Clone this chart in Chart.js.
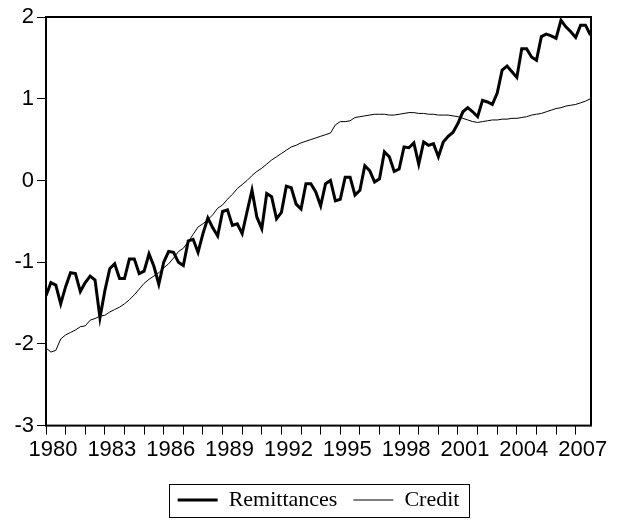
<!DOCTYPE html>
<html>
<head>
<meta charset="utf-8">
<script src="https://cdn.jsdelivr.net/npm/chart.js@4"></script>
<style>
  html, body { margin:0; padding:0; background:#fff; }
  #wrap { width:625px; height:521px; }
</style>
</head>
<body>
<div id="wrap"><canvas id="c"></canvas></div>
<script>
// quarterly series, first obs 1980Q1
const START_YEAR = 1980;
const YEAR_TICKS = [1980,1981,1982,1983,1984,1985,1986,1987,1988,1989,1990,1991,1992,1993,
                    1994,1995,1996,1997,1998,1999,2000,2001,2002,2003,2004,2005,2006,2007];
const YEAR_LABELS = [1980,1983,1986,1989,1992,1995,1998,2001,2004,2007];
const Y_TICKS = [-3,-2,-1,0,1,2];

const remittances = [
  -1.41,-1.25,-1.28,-1.51, -1.30,-1.13,-1.14,-1.36, -1.25,-1.17,-1.22,-1.68, -1.35,-1.08,-1.02,-1.20,
  -1.20,-0.96,-0.96,-1.14, -1.11,-0.90,-1.05,-1.27, -1.00,-0.87,-0.88,-1.00, -1.04,-0.74,-0.72,-0.88,
  -0.65,-0.46,-0.58,-0.68, -0.38,-0.36,-0.55,-0.53, -0.65,-0.38,-0.12,-0.45, -0.59,-0.16,-0.20,-0.47,
  -0.39,-0.07,-0.09,-0.29, -0.35,-0.04,-0.04,-0.14, -0.31,-0.04,0.00,-0.25, -0.23,0.04,0.04,-0.18,
  -0.12,0.18,0.12,-0.02, 0.02,0.35,0.29,0.11, 0.14,0.41,0.40,0.46, 0.20,0.47,0.43,0.45,
  0.29,0.47,0.54,0.59, 0.70,0.84,0.89,0.84, 0.78,0.98,0.96,0.93, 1.07,1.35,1.40,1.33,
  1.26,1.61,1.61,1.51, 1.47,1.76,1.79,1.77, 1.74,1.96,1.88,1.82, 1.75,1.90,1.90,1.78
];
const credit = [
  -2.05,-2.10,-2.08,-1.94, -1.89,-1.86,-1.83,-1.79, -1.78,-1.71,-1.69,-1.66, -1.65,-1.61,-1.58,-1.55,
  -1.51,-1.46,-1.40,-1.33, -1.26,-1.21,-1.17,-1.13, -1.07,-1.02,-0.95,-0.87, -0.83,-0.75,-0.66,-0.57,
  -0.53,-0.48,-0.42,-0.34, -0.30,-0.23,-0.17,-0.10, -0.05,0.00,0.06,0.11, 0.15,0.20,0.25,0.29,
  0.33,0.37,0.41,0.43, 0.46,0.48,0.50,0.52, 0.54,0.56,0.58,0.68, 0.72,0.72,0.73,0.77,
  0.78,0.79,0.80,0.81, 0.81,0.81,0.80,0.80, 0.81,0.82,0.83,0.83, 0.82,0.82,0.81,0.81,
  0.80,0.80,0.80,0.79, 0.78,0.76,0.74,0.72, 0.71,0.72,0.73,0.74, 0.74,0.75,0.75,0.76,
  0.76,0.77,0.78,0.80, 0.81,0.82,0.84,0.86, 0.88,0.89,0.91,0.92, 0.93,0.95,0.97,1.00
];

const toPoints = arr => arr.map((v, i) => ({ x: START_YEAR + i / 4, y: v }));

const SANS = "'Liberation Sans', Arial, Helvetica, sans-serif";
const SERIF = "'Liberation Serif', 'Times New Roman', serif";

// black frame round the plot and round the legend
const framePlugin = {
  id: 'frame',
  afterDraw(chart) {
    const ctx = chart.ctx, a = chart.chartArea;
    ctx.save();
    ctx.strokeStyle = '#000';
    ctx.lineWidth = 2;
    ctx.strokeRect(a.left, a.top, a.right - a.left, a.bottom - a.top);
    const hb = chart.legend && chart.legend.legendHitBoxes;
    if (hb && hb.length) {
      const l = Math.min(...hb.map(h => h.left)) - 9;
      const r = Math.max(...hb.map(h => h.left + h.width)) + 9;
      const cy = hb[0].top + hb[0].height / 2;
      ctx.lineWidth = 1;
      ctx.strokeRect(Math.round(l) + 0.5, Math.round(cy - 16.5) + 0.5, Math.round(r - l), 33);
    }
    ctx.restore();
  }
};

new Chart(document.getElementById('c'), {
  type: 'line',
  data: {
    datasets: [
      { label: 'Remittances', data: toPoints(remittances), borderColor: '#000', backgroundColor: '#000',
        borderWidth: 3, pointRadius: 0, tension: 0 },
      { label: 'Credit', data: toPoints(credit), borderColor: '#000', backgroundColor: '#000',
        borderWidth: 1, pointRadius: 0, tension: 0 }
    ]
  },
  options: {
    responsive: true, maintainAspectRatio: false, animation: false,
    layout: { padding: { top: 17, right: 34, left: 0, bottom: 0 } },
    plugins: {
      tooltip: { enabled: false },
      legend: {
        position: 'bottom', fullSize: false,
        labels: {
          color: '#000', font: { family: SERIF, size: 22 },
          usePointStyle: true, pointStyle: 'line', pointStyleWidth: 40, padding: 16
        }
      }
    },
    scales: {
      x: {
        type: 'linear', min: START_YEAR, max: 2007.78,
        afterBuildTicks: s => { s.ticks = YEAR_TICKS.map(v => ({ value: v })); },
        afterFit: s => { s.height += 8; },
        ticks: {
          color: '#000', font: { family: SANS, size: 22 }, maxRotation: 0, autoSkip: false,
          labelOffset: 7, padding: 2,
          callback: v => YEAR_LABELS.includes(v) ? String(v) : ''
        },
        grid: { drawOnChartArea: false, drawTicks: true, tickLength: 9, color: '#000', lineWidth: 1 },
        border: { display: false }
      },
      y: {
        min: -3, max: 2,
        afterBuildTicks: s => { s.ticks = Y_TICKS.map(v => ({ value: v })); },
        afterFit: s => { s.width = 46; },
        ticks: { color: '#000', font: { family: SANS, size: 22 }, padding: 3 },
        grid: { drawOnChartArea: false, drawTicks: true, tickLength: 9, color: '#000', lineWidth: 1 },
        border: { display: false }
      }
    }
  },
  plugins: [framePlugin]
});
</script>
</body>
</html>
